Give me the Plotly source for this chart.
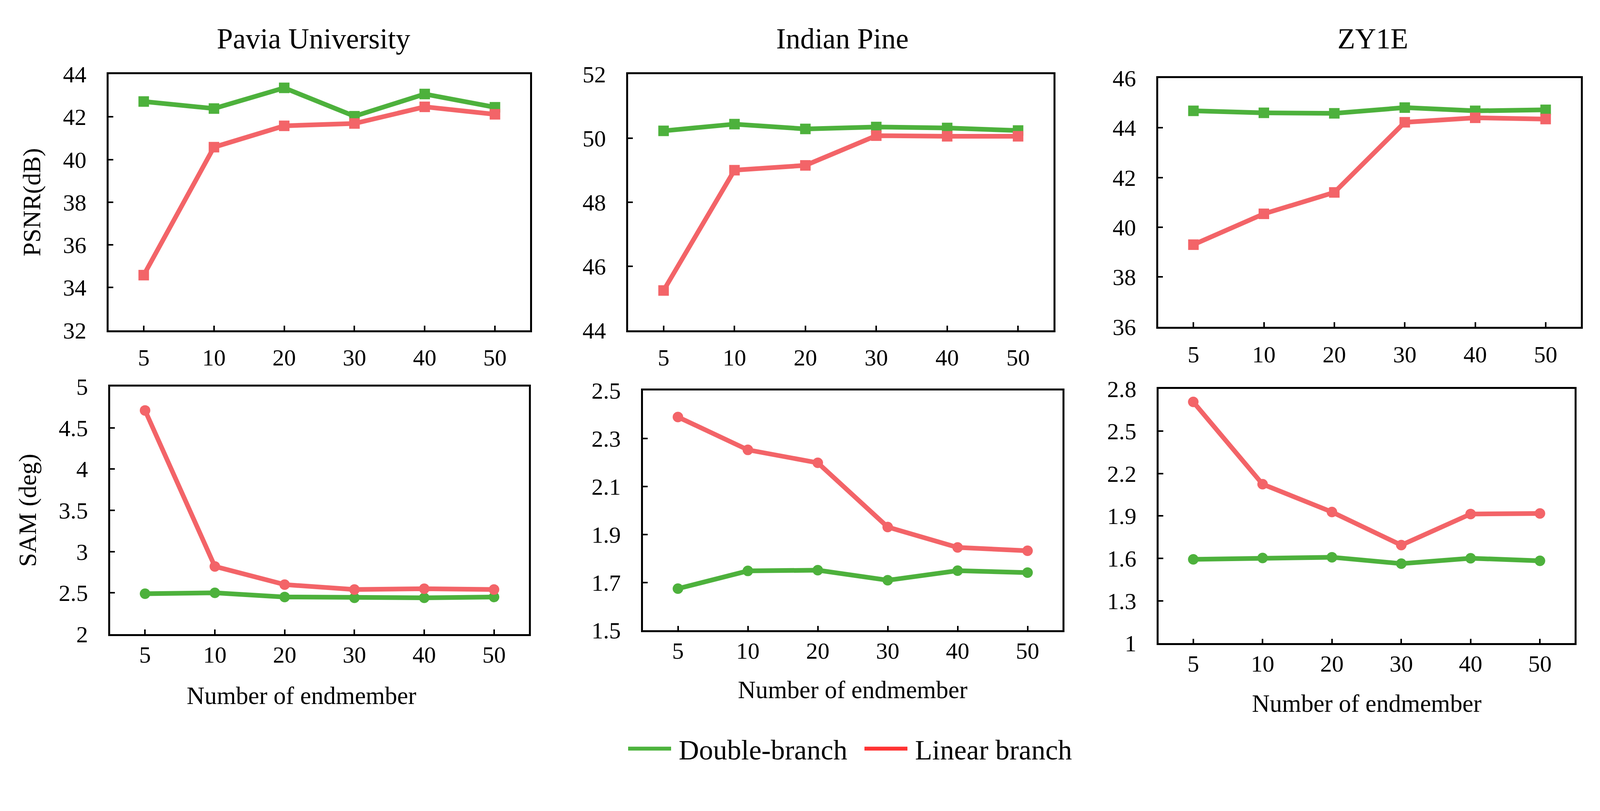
import plotly.graph_objects as go

W, H = 4248, 2077

endmembers = ["5", "10", "20", "30", "40", "50"]

datasets = ["Pavia University", "Indian Pine", "ZY1E"]

# PSNR (dB)
psnr_double_pavia = [42.72, 42.39, 43.36, 42.03, 43.07, 42.45]
psnr_linear_pavia = [34.58, 40.58, 41.58, 41.69, 42.47, 42.12]
psnr_double_indian = [50.23, 50.44, 50.29, 50.35, 50.32, 50.24]
psnr_linear_indian = [45.24, 49.00, 49.15, 50.08, 50.06, 50.06]
psnr_double_zy1e = [44.68, 44.60, 44.58, 44.81, 44.68, 44.72]
psnr_linear_zy1e = [39.30, 40.54, 41.40, 44.22, 44.40, 44.35]

# SAM (deg)
sam_double_pavia = [2.49, 2.50, 2.45, 2.44, 2.44, 2.45]
sam_linear_pavia = [4.71, 2.82, 2.60, 2.54, 2.55, 2.54]
sam_double_indian = [1.674, 1.748, 1.751, 1.709, 1.749, 1.741]
sam_linear_indian = [2.390, 2.253, 2.199, 1.931, 1.846, 1.832]
sam_double_zy1e = [1.593, 1.603, 1.608, 1.563, 1.601, 1.583]
sam_linear_zy1e = [2.707, 2.125, 1.928, 1.694, 1.914, 1.918]

psnr_ranges = [(32, 44, 2), (44, 52, 2), (36, 46, 2)]
sam_ranges = [(2, 5, 0.5), (1.5, 2.5, 0.2), (1, 2.8, 0.3)]

series_names = ["Double-branch", "Linear branch"]
line_colors = ["#4DB13C", "#F36468"]
legend_colors = ["#4DB33D", "#FF3333"]

# panel boxes in page pixels: left, right, top, bottom
boxes = [
    (270, 1349, 155, 832), (1600, 2689, 155, 832), (2957, 4039, 165, 823),
    (274, 1346, 981, 1636), (1638, 2712, 992, 1626), (2958, 4023, 987, 1660),
]
title_pos = [(794, 61), (2148, 61), (3506, 61)]
xtitle_pos = [(764, 1799), (2175, 1784), (3491, 1820)]

FONT = "Liberation Serif"
fig = go.Figure()

panels = [
    (psnr_double_pavia, psnr_linear_pavia, psnr_ranges[0], "square"),
    (psnr_double_indian, psnr_linear_indian, psnr_ranges[1], "square"),
    (psnr_double_zy1e, psnr_linear_zy1e, psnr_ranges[2], "square"),
    (sam_double_pavia, sam_linear_pavia, sam_ranges[0], "circle"),
    (sam_double_indian, sam_linear_indian, sam_ranges[1], "circle"),
    (sam_double_zy1e, sam_linear_zy1e, sam_ranges[2], "circle"),
]

layout = {}
for i, (dbl, lin, (lo, hi, dt), sym) in enumerate(panels):
    n = i + 1
    sfx = "" if n == 1 else str(n)
    xa, ya = "x" + sfx, "y" + sfx
    for vals, name, col in [(dbl, series_names[0], line_colors[0]), (lin, series_names[1], line_colors[1])]:
        fig.add_trace(go.Scatter(
            x=endmembers, y=vals, name=name, mode="lines+markers",
            line=dict(color=col, width=12),
            marker=dict(symbol=sym, size=27, color=col),
            xaxis=xa, yaxis=ya, showlegend=False,
        ))
    l, r, t, b = boxes[i]
    common = dict(showline=True, linecolor="black", linewidth=4.5, mirror=True,
                  ticks="inside", ticklen=12, tickwidth=4, tickcolor="black",
                  showgrid=False, zeroline=False,
                  tickfont=dict(family=FONT, size=60, color="black"))
    layout["xaxis" + sfx] = dict(domain=[l / W, r / W], anchor=ya,
                                 type="category", categoryorder="array", categoryarray=endmembers,
                                 range=[-0.5, len(endmembers) - 0.5],
                                 ticklabelstandoff=14 if n <= 3 else -4, **common)
    layout["yaxis" + sfx] = dict(domain=[1 - b / H, 1 - t / H], anchor=xa,
                                 range=[lo, hi], tick0=lo, dtick=dt, ticklabelstandoff=40, **common)

layout["yaxis"]["title"] = dict(text="PSNR(dB)", font=dict(family=FONT, size=64, color="black"), standoff=38)
layout["yaxis4"]["title"] = dict(text="SAM (deg)", font=dict(family=FONT, size=64, color="black"), standoff=38)

# legend entries
for name, col in zip(series_names, legend_colors):
    fig.add_trace(go.Scatter(x=[None], y=[None], name="\u2009" + name, mode="lines",
                             line=dict(color=col, width=12), showlegend=True))

annotations = []
for name, (cx, cy) in zip(datasets, title_pos):
    annotations.append(dict(text=name, x=cx / W, y=1 - cy / H, xref="paper", yref="paper",
                            showarrow=False, xanchor="center", yanchor="middle",
                            font=dict(family=FONT, size=74, color="black")))
for (cx, cy) in xtitle_pos:
    annotations.append(dict(text="Number of endmember", x=cx / W, y=1 - cy / H, xref="paper", yref="paper",
                            showarrow=False, xanchor="center", yanchor="middle",
                            font=dict(family=FONT, size=63, color="black")))

fig.update_layout(
    width=W, height=H,
    margin=dict(l=0, r=0, t=0, b=0),
    paper_bgcolor="white", plot_bgcolor="white",
    showlegend=True,
    legend=dict(orientation="h", x=2200 / W, y=1 - 1939 / H, xanchor="center", yanchor="middle",
                font=dict(family=FONT, size=72, color="black"), itemwidth=110,
                entrywidth=480, entrywidthmode="pixels",
                bgcolor="rgba(0,0,0,0)"),
    annotations=annotations,
    **layout,
)
fig.write_html("out.html")
